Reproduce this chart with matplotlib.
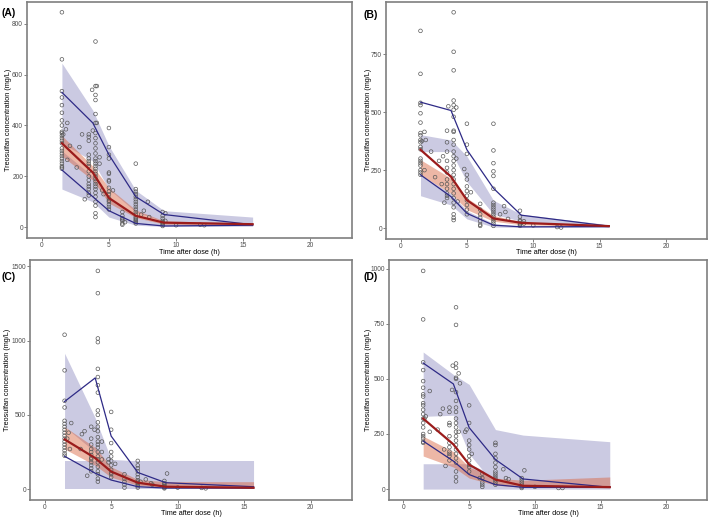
import matplotlib
matplotlib.use("Agg")
import matplotlib.pyplot as plt

plt.rcParams['font.family'] = ['Liberation Sans', 'DejaVu Sans']

# bin midpoints used by the VPC summary lines / bands
bin_t = [1.5, 3.8, 5.0, 7.0, 9.1, 15.7]

# ---- panel A ----
obs_a = [
    (1.5, [845, 660, 535, 510, 480, 450, 420, 400, 375, 370, 360, 350, 340, 330,
           310, 300, 290, 280, 270, 260, 250, 240, 235, 230]),
    (1.6, [365]), (1.8, [385]), (1.9, [410, 265]), (2.1, [320]), (2.6, [235]),
    (2.8, [315]), (3.0, [365]), (3.2, [110]),
    (3.5, [365, 355, 340, 285, 270, 260, 250, 240, 220, 200, 185, 170, 160, 150, 135, 125]),
    (3.75, [540]), (3.8, [380]),
    (4.0, [730, 555, 520, 500, 445, 410, 370, 350, 330, 310, 290, 270, 260, 250, 240,
           230, 220, 210, 200, 190, 180, 170, 160, 150, 135, 120, 100, 85, 55, 40]),
    (4.1, [555, 410]), (4.3, [275, 250]), (4.5, [145]), (4.6, [130]),
    (5.0, [390, 315, 285, 270, 215, 210, 185, 180, 155, 140, 130, 115, 105, 100, 90, 80, 70]),
    (5.3, [145]),
    (6.0, [60, 45, 35, 30, 25, 15, 10]), (6.2, [20]),
    (7.0, [250, 150, 140, 130, 120, 110, 100, 90, 80, 70, 60, 50, 40, 35, 30, 25, 20, 15]),
    (7.4, [50]), (7.6, [65]), (7.9, [100]), (8.0, [40]),
    (9.0, [60, 45, 35, 25, 20, 15, 10, 5]), (9.2, [55, 25]),
    (10.0, [8]), (11.8, [10]), (12.1, [8]),
]
p95_a = [530, 410, 285, 120, 50, 10]
p50_a = [330, 215, 115, 45, 18, 12]
p05_a = [225, 120, 65, 15, 5, 8]
up_lo_a = [330, 260, 150, 60, 22, 10]
up_hi_a = [645, 460, 320, 145, 65, 40]
md_lo_a = [280, 185, 95, 38, 12, 8]
md_hi_a = [360, 240, 155, 68, 25, 16]
lw_lo_a = [150, 100, 40, 8, 3, 4]
lw_hi_a = [300, 200, 110, 40, 15, 12]

# ---- panel B ----
obs_b = [
    (1.5, [850, 665, 540, 530, 495, 455, 410, 400, 380, 370, 350, 340, 300, 290, 280,
           270, 250, 240, 230]),
    (1.6, [375]), (1.8, [415, 250]), (1.9, [380]), (2.3, [330]), (2.6, [220]),
    (2.9, [290]), (3.1, [190]), (3.2, [310]), (3.3, [110]),
    (3.5, [420, 370, 330, 290, 260, 240, 210, 190, 170, 150, 140, 130]),
    (3.6, [525]),
    (4.0, [930, 760, 680, 550, 530, 510, 480, 420, 415, 380, 360, 330, 310, 290, 270,
           250, 230, 210, 190, 170, 150, 130, 110, 90, 60, 45, 35]),
    (4.2, [520, 300]), (4.3, [115]), (4.8, [255]),
    (5.0, [450, 360, 320, 230, 210, 180, 160, 140, 120, 100, 80, 60]),
    (5.3, [155]),
    (6.0, [105, 80, 60, 45, 30, 15, 10]),
    (7.0, [450, 335, 280, 245, 225, 170, 110, 100, 90, 80, 70, 60, 50, 40, 30, 20, 10]),
    (7.5, [60]), (7.8, [95]), (7.9, [70]), (8.1, [40]),
    (9.0, [75, 50, 35, 30, 20, 15, 10]), (9.3, [30, 20]),
    (10.0, [12]), (11.8, [5]), (12.1, [3]),
]
p95_b = [543, 507, 338, 172, 56, 9]
p50_b = [338, 222, 121, 42, 23, 9]
p05_b = [230, 136, 64, 13, 6, 7]
up_lo_b = [330, 330, 200, 60, 30, 5]
up_hi_b = [403, 380, 310, 120, 60, 15]
md_lo_b = [230, 150, 80, 30, 15, 8]
md_hi_b = [295, 215, 130, 55, 28, 12]
lw_lo_b = [140, 100, 40, 5, 3, 3]
lw_hi_b = [230, 150, 75, 20, 8, 8]

# ---- panel C ----
obs_c = [
    (1.5, [1040, 800, 595, 550, 460, 440, 420, 400, 380, 360, 340, 320, 300, 280, 260, 240, 225]),
    (1.7, [340]), (1.8, [380]), (1.9, [270]), (2.0, [445]),
    (2.7, [270]), (2.8, [370]), (3.0, [390]), (3.2, [90]),
    (3.5, [420, 340, 300, 270, 250, 230, 210, 200, 180, 160, 140, 120]),
    (3.75, [400]),
    (4.0, [1470, 1320, 1015, 990, 810, 755, 700, 650, 530, 500, 450, 420, 390, 350, 320,
           300, 280, 250, 220, 200, 180, 150, 120, 100, 70, 50]),
    (4.3, [320, 250, 200]), (4.8, [180, 200]),
    (5.0, [520, 400, 310, 250, 220, 190, 160, 130, 110, 100, 80]),
    (5.3, [170]),
    (6.0, [100, 70, 50, 30, 10]),
    (7.0, [190, 160, 140, 120, 100, 80, 60, 50, 40, 30, 20, 10]),
    (7.2, [50]), (7.6, [65]), (8.0, [40]), (8.1, [30]),
    (9.0, [55, 40, 30, 20, 15, 10, 5]), (9.2, [105]),
    (10.0, [10]), (11.8, [8]), (12.1, [5]),
]
p95_c = [590, 749, 357, 112, 43, 16]
p50_c = [335, 209, 118, 43, 16, 9]
p05_c = [221, 107, 61, 16, 7, 7]
up_lo_c = [420, 250, 140, 50, 20, 10]
up_hi_c = [915, 480, 200, 190, 190, 190]
md_lo_c = [270, 160, 80, 25, 10, 8]
md_hi_c = [420, 280, 150, 65, 50, 50]
lw_lo_c = [0, 0, 0, 0, 0, 0]
lw_hi_c = [190, 190, 190, 190, 190, 190]

# ---- panel D ----
obs_d = [
    (1.5, [990, 770, 575, 540, 490, 460, 430, 420, 390, 380, 360, 340, 320, 300, 280,
           250, 240, 230, 215, 210]),
    (1.6, [320]), (1.7, [330]), (2.0, [445, 260]),
    (2.6, [270]), (2.8, [340]), (3.0, [365]), (3.1, [180]), (3.2, [105]),
    (3.5, [370, 350, 300, 290, 240, 210, 190, 170, 160, 150, 130]),
    (3.7, [450]), (3.75, [560]),
    (4.0, [825, 745, 570, 550, 505, 500, 440, 400, 370, 350, 320, 300, 280, 260, 240,
           220, 200, 180, 160, 140, 120, 80, 55, 35]),
    (4.2, [525, 260]), (4.3, [480]), (4.7, [260]), (4.8, [270]),
    (5.0, [380, 300, 220, 200, 180, 150, 130, 110, 100, 80]),
    (5.2, [160]), (5.8, [50]),
    (6.0, [70, 50, 30, 20, 10]),
    (7.0, [210, 200, 160, 140, 120, 100, 80, 70, 60, 50, 40, 30, 20]),
    (7.6, [90]), (7.8, [50]), (8.0, [45]),
    (9.0, [50, 40, 30, 20, 10, 5]), (9.2, [85]),
    (10.0, [10]), (11.8, [5]), (12.1, [5]),
]
p95_d = [572, 477, 279, 134, 46, 8]
p50_d = [320, 203, 111, 43, 15, 9]
p05_d = [218, 127, 66, 20, 8, 8]
up_lo_d = [330, 335, 160, 15, 5, 5]
up_hi_d = [622, 520, 475, 270, 245, 215]
md_lo_d = [150, 100, 50, 18, 8, 6]
md_hi_d = [240, 170, 100, 50, 40, 55]
lw_lo_d = [0, 0, 0, 0, 0, 0]
lw_hi_d = [115, 115, 115, 60, 30, 30]

panels = [
    ("(A)", obs_a, p95_a, p50_a, p05_a, up_lo_a, up_hi_a, md_lo_a, md_hi_a, lw_lo_a, lw_hi_a,
     [0, 200, 400, 600, 800], 845),
    ("(B)", obs_b, p95_b, p50_b, p05_b, up_lo_b, up_hi_b, md_lo_b, md_hi_b, lw_lo_b, lw_hi_b,
     [0, 250, 500, 750], 930),
    ("(C)", obs_c, p95_c, p50_c, p05_c, up_lo_c, up_hi_c, md_lo_c, md_hi_c, lw_lo_c, lw_hi_c,
     [0, 500, 1000, 1500], 1470),
    ("(D)", obs_d, p95_d, p50_d, p05_d, up_lo_d, up_hi_d, md_lo_d, md_hi_d, lw_lo_d, lw_hi_d,
     [0, 250, 500, 750, 1000], 990),
]

# axes boxes in pixels: left, top, right, bottom
boxes = [(27, 1.5, 352, 238), (386, 1.5, 707, 239), (30, 260, 352, 500), (389, 260, 707, 500)]
tag_pos = [(1, 13), (364, 15), (1, 277), (364, 277)]
ylab_x = [9, 369, 8, 369]            # centre of y label, px
xlab_y = [252.5, 253, 513.5, 513.5]  # centre of x label, px

W, H = 709, 518
fig = plt.figure(figsize=(W / 100, H / 100), dpi=100)

lav = '#cbcae2'
band_red = '#d9603b'
blue = '#2e2a86'
dark_red = '#9b1c1c'

for i, (tag, obs, p95, p50, p05, ulo, uhi, mlo, mhi, llo, lhi, yt, ymax) in enumerate(panels):
    l, t, r, b = boxes[i]
    ax = fig.add_axes([l / W, 1 - b / H, (r - l) / W, (b - t) / H])

    ax.fill_between(bin_t, ulo, uhi, color=lav, lw=0, zorder=1)
    ax.fill_between(bin_t, llo, lhi, color=lav, lw=0, zorder=1)
    ax.fill_between(bin_t, mlo, mhi, color=band_red, alpha=0.45, lw=0, zorder=2)

    for tt, cc in obs:
        ax.scatter([tt] * len(cc), cc, s=7, facecolors='none', edgecolors='#5a5a5a',
                   linewidths=0.5, zorder=3)

    ax.plot(bin_t, p95, color=blue, lw=0.9, zorder=4)
    ax.plot(bin_t, p05, color=blue, lw=0.9, zorder=4)
    ax.plot(bin_t, p50, color=dark_red, lw=1.6, zorder=5)

    pad = ymax * 0.05
    ax.set_xlim(-1.1, 23.1)
    ax.set_ylim(-pad, ymax + pad)
    ax.set_xticks([0, 5, 10, 15, 20])
    ax.set_yticks(yt)
    ax.tick_params(labelsize=4.8, colors='#4d4d4d', length=2, width=0.5, pad=0.8)
    for sp in ax.spines.values():
        sp.set_color('#7f7f7f')
        sp.set_linewidth(1.2)

    fig.text((l + r) / 2 / W, 1 - xlab_y[i] / H, "Time after dose (h)", fontsize=5.2,
             ha='center', va='center')
    fig.text(ylab_x[i] / W, 1 - (t + b) / 2 / H, "Treosulfan concentration (mg/L)",
             fontsize=5.2, rotation=90, ha='center', va='center')
    fig.text(tag_pos[i][0] / W, 1 - tag_pos[i][1] / H, tag, fontsize=7.5,
             fontweight='bold', va='center', ha='left')

fig.savefig("out.png", dpi=100)
